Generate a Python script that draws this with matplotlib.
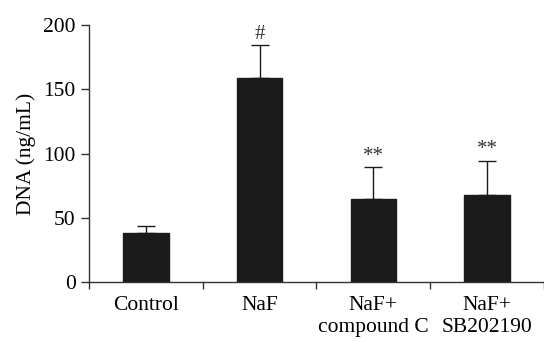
import numpy as np
import matplotlib.pyplot as plt

plt.rcParams['font.family'] = ['Liberation Serif', 'DejaVu Serif']

# data
groups = ['Control', 'NaF', 'NaF+\ncompound C', 'NaF+\nSB202190']
means = [37.9, 158.5, 64.6, 67.9]
errors = [5.7, 25.9, 24.9, 26.5]
marks = ['', '#', '**', '**']

fig = plt.figure(figsize=(5.44, 3.42), dpi=100)
ax = fig.add_axes([0.1636, 0.1754, 0.8364, 0.7515])

x = np.arange(len(groups))
ax.bar(x, means, width=0.40, color='#1a1a1a', edgecolor='#1a1a1a', zorder=2)
ax.errorbar(x, means, yerr=[np.zeros(len(errors)), errors], fmt='none',
            ecolor='#1a1a1a', elinewidth=1.0, capsize=6.5, capthick=1.0, zorder=3)

for xi, m, e, s in zip(x, means, errors, marks):
    if s:
        ax.annotate(s, (xi, m + e), xytext=(0, 1), textcoords='offset points',
                    ha='center', va='bottom', fontsize=15, color='#333333')

ax.set_xlim(-0.5, 3.5)
ax.set_ylim(0, 200)
ax.set_yticks([0, 50, 100, 150, 200])
ax.set_xticks(np.arange(-0.5, 4.0, 1.0))
ax.set_xticklabels([])
ax.set_xticks(x, minor=True)
ax.set_xticklabels(groups, minor=True)
ax.tick_params(axis='x', which='minor', length=0, pad=10, labelsize=15.5)
ax.tick_params(axis='x', which='major', length=5, width=1, direction='out', color='#333333')
ax.tick_params(axis='y', length=5.5, width=1, direction='out', color='#333333', labelsize=15.5, pad=4)
ax.set_ylabel('DNA (ng/mL)', fontsize=15.5, labelpad=5)

for sp in ['top', 'right']:
    ax.spines[sp].set_visible(False)
for sp in ['left', 'bottom']:
    ax.spines[sp].set_color('#333333')
    ax.spines[sp].set_linewidth(1)
ax.spines['bottom'].set_clip_on(False)

fig.savefig('out.png', dpi=100)
